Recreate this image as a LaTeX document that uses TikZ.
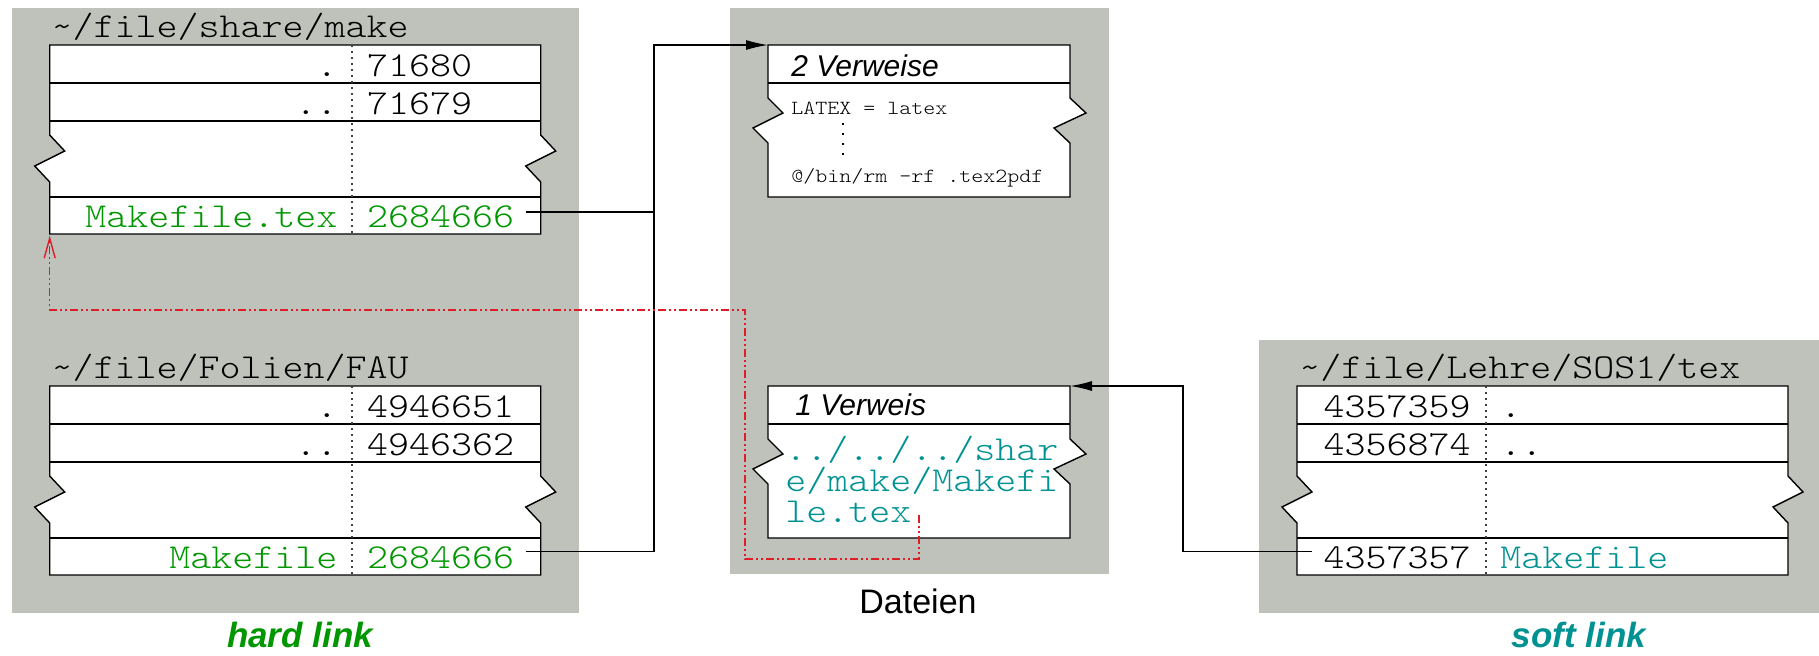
\documentclass[tikz,border=0pt]{standalone}
\usepackage{fontspec}
\setmainfont{Liberation Sans}
\setsansfont{Liberation Sans}
\setmonofont{lmmonolt10-regular.otf}[FakeStretch=1.143]
\usetikzlibrary{arrows.meta}
\definecolor{panelgray}{RGB}{190,194,187}
\definecolor{lgreen}{RGB}{0,150,0}
\definecolor{lteal}{RGB}{0,146,146}
\definecolor{lred}{RGB}{220,30,40}
\tikzset{
  panel/.style={fill=panelgray, draw=none},
  frame/.style={draw=black, fill=white, line width=0.7pt, line join=miter},
  sepline/.style={draw=black, line width=0.7pt},
  divider/.style={draw=black!75, line width=0.8pt, dash pattern=on 1pt off 2pt},
  vdots/.style={draw=black, line width=1pt, dash pattern=on 0.8pt off 4.2pt},
  bigmono/.style={font=\fontsize{17.5}{20}\selectfont\ttfamily, inner sep=0pt, text height=11pt, text depth=2.5pt},
  smallmono/.style={font=\fontsize{10}{12}\selectfont\ttfamily, inner sep=0pt},
  hdr/.style={font=\fontsize{15}{18}\selectfont\sffamily\itshape, inner sep=0pt},
  caption/.style={font=\fontsize{17}{20}\selectfont\sffamily, inner sep=0pt},
  linkcap/.style={font=\fontsize{17.5}{20}\selectfont\sffamily\bfseries\itshape, inner sep=0pt},
  conn/.style={draw=black, line width=0.7pt, -{Latex[length=11pt,width=5pt]}},
  plainconn/.style={draw=black, line width=0.7pt},
  symconn/.style={draw=lred, line width=0.7pt, dash pattern=on 4pt off 1.5pt on 1pt off 1.5pt on 1pt off 1.5pt, -{Straight Barb[length=10pt,width=5.5pt]}},
}
\newcommand\dirframe[2]{%
  \path[frame] (0,0) -- (#1,0) -- (#1,90) -- ({#1+15},106) -- ({#1-15},121) -- (#1,137)
    -- (#1,189) -- (0,189) -- (0,137) -- (-15,121) -- (15,106) -- (0,90) -- cycle;
  \draw[sepline] (0,38) -- (#1,38);
  \draw[sepline] (0,76) -- (#1,76);
  \draw[sepline] (0,152) -- (#1,152);
  \draw[divider] (#2,0) -- (#2,189);
}
\newcommand\fileframe{%
  \path[frame] (0,0) -- (302,0) -- (302,53) -- (318,68) -- (286,83) -- (302,98)
    -- (302,152) -- (0,152) -- (0,98) -- (-15,83) -- (15,68) -- (0,53) -- cycle;
  \draw[sepline] (0,38) -- (302,38);
}
\begin{document}
\begin{tikzpicture}[x=0.5pt,y=-0.5pt]
\useasboundingbox (0,0) rectangle (1819,655);
% panels
\path[panel] (11.5,7.5) rectangle (578.6,612.7);
\path[panel] (730,7.5) rectangle (1109,574.3);
\path[panel] (1259,340) rectangle (1819,612.7);

% left upper directory
\begin{scope}[shift={(49.7,45)}]
  \dirframe{491}{302}
  \node[bigmono, anchor=base west] (t1) at (1.5,-8) {\textasciitilde/file/share/make};
  \node[bigmono, anchor=base east] (a1n) at (288,31) {.};
  \node[bigmono, anchor=base west] (a1i) at (317,31) {71680};
  \node[bigmono, anchor=base east] (a2n) at (288,69) {..};
  \node[bigmono, anchor=base west] (a2i) at (317,69) {71679};
  \node[bigmono, anchor=base east, text=lgreen] (a4n) at (288,182) {Makefile.tex};
  \node[bigmono, anchor=base west, text=lgreen] (a4i) at (317,182) {2684666};
  \coordinate (hl1) at (476.5,167);
  \coordinate (tgt) at (0,190.5);
\end{scope}

% left lower directory
\begin{scope}[shift={(49.7,386)}]
  \dirframe{491}{302}
  \node[bigmono, anchor=base west] (t2) at (1.5,-8) {\textasciitilde/file/Folien/FAU};
  \node[bigmono, anchor=base east] (b1n) at (288,31) {.};
  \node[bigmono, anchor=base west] (b1i) at (317,31) {4946651};
  \node[bigmono, anchor=base east] (b2n) at (288,69) {..};
  \node[bigmono, anchor=base west] (b2i) at (317,69) {4946362};
  \node[bigmono, anchor=base east, text=lgreen] (b4n) at (288,182) {Makefile};
  \node[bigmono, anchor=base west, text=lgreen] (b4i) at (317,182) {2684666};
  \coordinate (hl2) at (476.5,165.5);
\end{scope}

% right directory
\begin{scope}[shift={(1297,386)}]
  \dirframe{491}{189}
  \node[bigmono, anchor=base west] (t3) at (2,-8) {\textasciitilde/file/Lehre/SOS1/tex};
  \node[bigmono, anchor=base east] (c1i) at (174,31) {4357359};
  \node[bigmono, anchor=base west] (c1n) at (203,31) {.};
  \node[bigmono, anchor=base east] (c2i) at (174,69) {4356874};
  \node[bigmono, anchor=base west] (c2n) at (203,69) {..};
  \node[bigmono, anchor=base east] (c4i) at (174,182) {4357357};
  \node[bigmono, anchor=base west, text=lteal] (c4n) at (203,182) {Makefile};
  \coordinate (sl) at (14.7,165.7);
\end{scope}

% file with 2 links
\begin{scope}[shift={(768,45)}]
  \fileframe
  \coordinate (f2nw) at (0,0);
  \node[hdr, anchor=base west] (h2) at (23,31) {2 Verweise};
  \node[smallmono, anchor=base west] (m1) at (23,69) {LATEX = latex};
  \coordinate (vd1) at (75,78);
  \coordinate (vd2) at (75,112);
  \node[smallmono, anchor=base west] (m2) at (23,137) {@/bin/rm -rf .tex2pdf};
\end{scope}
\draw[vdots] (vd1) -- (vd2);

% file with 1 link (symlink)
\begin{scope}[shift={(768,386)}]
  \fileframe
  \coordinate (f1ne) at (302,0);
  \node[hdr, anchor=base west] (h1) at (27,29) {1 Verweis};
  \node[font=\fontsize{17.5}{15.5}\selectfont\ttfamily, inner sep=0pt, anchor=base west, text=lteal] (symtext) at (17,74)
    {\vtop{\baselineskip=15.5pt\lineskiplimit=-100pt\lineskip=0pt\hbox{../../../shar}\hbox{e/make/Makefi}\hbox{le.tex}}};
  \coordinate (rs) at (151,129);
\end{scope}

% captions
\node[caption, anchor=base] (cap1) at (918,613) {Dateien};
\node[linkcap, anchor=base, text=lgreen] (cap2) at (300,647) {hard link};
\node[linkcap, anchor=base, text=lteal] (cap3) at (1579,647) {soft link};

% hard link connectors
\coordinate (bend) at (654,45);
\draw[conn] (hl2) -| (bend) -- (f2nw);
\draw[plainconn] (hl1) -- (hl1 -| bend);

% soft link connector
\coordinate (sbend) at (1183,386);
\draw[conn] (sl) -| (sbend) -- (f1ne);

% symbolic resolution path
\coordinate (r1) at (745,559);
\coordinate (r2) at (49.7,310);
\draw[symconn] (rs) |- (r1) |- (r2) -- (tgt);
\end{tikzpicture}
\end{document}
